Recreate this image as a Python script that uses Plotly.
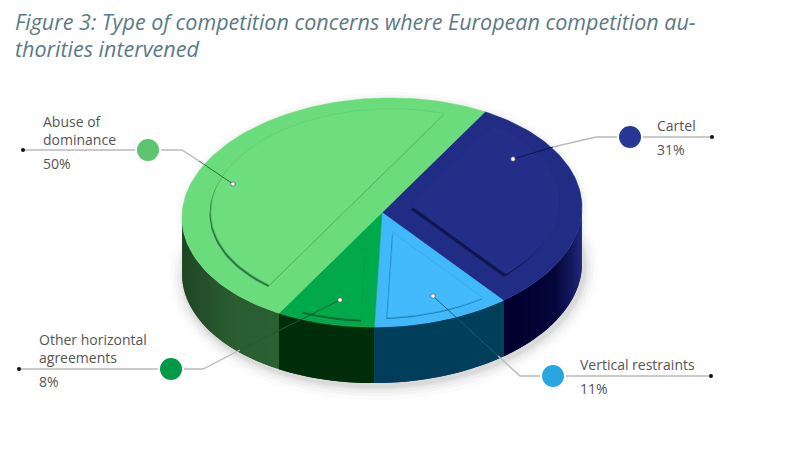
import math
import plotly.graph_objects as go

# ---- data ----
categories = ["Cartel", "Vertical restraints", "Other horizontal agreements", "Abuse of dominance"]
values = [31, 11, 8, 50]
value_labels = ["31%", "11%", "8%", "50%"]
title_lines = ["Figure 3: Type of competition concerns where European competition au-", "thorities intervened"]

# ---- styling ----
START_DEG = 31.0
CX, CY, A, B, TILT, DEPTH = 382.0, 212.5, 200.0, 114.5, 0.025, 56.0
top_colors = ["#212c85", "#40b8fa", "#00a94a", "#6bdc7c"]
inset_colors = ["#232e88", "#42bafc", "#00aa4b", "#6ddd7e"]
shadow_colors = ["#10164f", "#1f7fb5", "#14622e", "#2f7a42"]
edge_colors = ["#28328e", "#36a8e6", "#03a549", "#62cc74"]
dot_colors = ["#263796", "#27a6e1", "#009a47", "#5cc46e"]
side_stops = [
    [(505, "#00002c"), (555, "#05063a"), (572, "#141a60"), (582, "#222a80")],
    [(375, "#003e5c"), (505, "#003f58")],
    [(278, "#002d0a"), (375, "#002d0a")],
    [(182, "#1f4624"), (230, "#2b5c31"), (278, "#2b6033")],
]
# inset: circle centre (disc units), radius, offsets from the wedge's start and end edges
insets = [
    dict(c=(0.03, 0.05), r=0.85, d0=0.11, d1=0.15),
    dict(c=(0.0, 0.0), r=0.92, d0=0.065, d1=0.062),
    dict(c=(0.0, 0.0), r=0.935, d0=0.07, d1=0.09),
    dict(c=(0.01, 0.04), r=0.865, d0=0.17, d1=0.17),
]
shadow_shift = [(-2.0, 3.0), (-1.0, 1.5), (0.0, 2.2), (-1.5, 2.0)]
leaders = [
    dict(end=(712, 137), dot=(630, 137), knee=(596, 137), tip=(513, 159), over=(553, 147), inner="#0d1250"),
    dict(end=(711, 376), dot=(553, 376), knee=(520, 376), tip=(433, 296), over=(498, 356), inner="#1a5f78"),
    dict(end=(19, 369), dot=(171, 369), knee=(203, 369), tip=(340, 300), over=(240, 350), inner="#1b5a2e"),
    dict(end=(23, 150), dot=(148, 150), knee=(182, 150), tip=(233, 184), over=(199, 161), inner="#2f6f40"),
]
label_pos = [
    dict(x=655, y=125, pct=149),
    dict(x=578, y=364, pct=388),
    dict(x=37, y=348.5, pct=381),
    dict(x=41, y=130, pct=163),
]
label_lines = [["Cartel"], ["Vertical restraints"], ["Other horizontal", "agreements"], ["Abuse of", "dominance"]]


def px(u, v, drop=0.0):
    return CX + A * u, CY - B * v - TILT * A * u + drop


def hex_mix(stops, x):
    if x <= stops[0][0]:
        return stops[0][1]
    for (x0, c0), (x1, c1) in zip(stops, stops[1:]):
        if x <= x1:
            t = (x - x0) / (x1 - x0)
            p = [int(c0[i:i + 2], 16) for i in (1, 3, 5)]
            q = [int(c1[i:i + 2], 16) for i in (1, 3, 5)]
            return "rgb(%d,%d,%d)" % tuple(round(a + (b - a) * t) for a, b in zip(p, q))
    return stops[-1][1]


def clip(poly, nx, ny, d):
    """keep the part of poly with nx*u + ny*v >= d"""
    out = []
    for i, p in enumerate(poly):
        q = poly[(i + 1) % len(poly)]
        fp = nx * p[0] + ny * p[1] - d
        fq = nx * q[0] + ny * q[1] - d
        if fp >= 0:
            out.append(p)
        if fp * fq < 0:
            t = fp / (fp - fq)
            out.append((p[0] + (q[0] - p[0]) * t, p[1] + (q[1] - p[1]) * t))
    return out


fig = go.Figure()


def poly(points, fill, line=None, width=0.6, opacity=1.0):
    xs = [p[0] for p in points] + [points[0][0]]
    ys = [p[1] for p in points] + [points[0][1]]
    fig.add_trace(go.Scatter(x=xs, y=ys, mode="lines", fill="toself", fillcolor=fill, opacity=opacity,
                             line=dict(color=line or fill, width=width if line else 0),
                             hoverinfo="skip", showlegend=False))


# angular spans from the values
total = sum(values)
spans = []
a0 = START_DEG
for val in values:
    a1 = a0 + 360.0 * val / total
    spans.append((a0, a1))
    a0 = a1

# soft shadow below the pie
circle = [(math.sin(math.radians(t)), math.cos(math.radians(t))) for t in range(0, 360, 3)]
for grow, op in [(14, 0.025), (10, 0.03), (7, 0.035), (4, 0.05), (2, 0.06)]:
    poly([(CX + (A + grow) * u + 2, CY - (B + grow) * v - TILT * A * u + DEPTH + 3) for u, v in circle],
         "#404040", opacity=op)
for grow, op in [(6, 0.02), (3, 0.03)]:
    poly([(CX + (A + grow) * u + 1, CY - (B + grow) * v - TILT * A * u) for u, v in circle], "#404040", opacity=op)

# side wall: each facet overlaps the next, and the next paints over the join
for (s0, s1), stops in zip(spans, side_stops):
    lo, hi = max(s0, 88.0), min(s1, 272.0)
    t = lo
    while t < hi:
        t2 = min(t + 1.5, hi)
        t3 = min(t2 + 1.5, hi)
        arc = [t + (t3 - t) * i / 4 for i in range(5)]
        top = [px(math.sin(math.radians(q)), math.cos(math.radians(q))) for q in arc]
        bot = [px(math.sin(math.radians(q)), math.cos(math.radians(q)), DEPTH) for q in arc]
        mx = px(math.sin(math.radians((t + t2) / 2)), 0)[0]
        poly(top + bot[::-1], hex_mix(stops, mx))
        t = t2

# top wedges
for (s0, s1), col in zip(spans, top_colors):
    n = max(2, int((s1 - s0) / 1.5))
    pts = [(CX, CY)] + [px(math.sin(math.radians(s0 + (s1 - s0) * i / n)),
                           math.cos(math.radians(s0 + (s1 - s0) * i / n))) for i in range(n + 1)]
    poly(pts, col, line=col, width=0.5)

# raised insets
for k, ((s0, s1), ins) in enumerate(zip(spans, insets)):
    shape = [(ins["c"][0] + ins["r"] * math.sin(math.radians(t)),
              ins["c"][1] + ins["r"] * math.cos(math.radians(t))) for t in range(0, 360, 2)]
    r0, r1 = math.radians(s0), math.radians(s1)
    shape = clip(shape, math.cos(r0), -math.sin(r0), ins["d0"])
    shape = clip(shape, -math.cos(r1), math.sin(r1), ins["d1"])
    pts = [px(u, v) for u, v in shape]
    dx, dy = shadow_shift[k]
    poly([(x + dx, y + dy) for x, y in pts], shadow_colors[k])
    poly(pts, inset_colors[k], line=edge_colors[k], width=0.8)

# leader lines
for item, col in zip(leaders, dot_colors):
    lx = [item["end"][0], item["knee"][0], item["over"][0]]
    ly = [item["end"][1], item["knee"][1], item["over"][1]]
    fig.add_trace(go.Scatter(x=lx, y=ly, mode="lines", line=dict(color="#b9b9b9", width=1.4),
                             hoverinfo="skip", showlegend=False))
    fig.add_trace(go.Scatter(x=[item["over"][0], item["tip"][0]], y=[item["over"][1], item["tip"][1]], mode="lines",
                             line=dict(color=item["inner"], width=1.0), hoverinfo="skip", showlegend=False))
    fig.add_trace(go.Scatter(x=[item["end"][0]], y=[item["end"][1]], mode="markers",
                             marker=dict(size=4, color="#111111"), hoverinfo="skip", showlegend=False))
    fig.add_trace(go.Scatter(x=[item["tip"][0]], y=[item["tip"][1]], mode="markers",
                             marker=dict(size=4.5, color="white", line=dict(color="#555555", width=0.7)),
                             hoverinfo="skip", showlegend=False))
    fig.add_trace(go.Scatter(x=[item["dot"][0]], y=[item["dot"][1]], mode="markers",
                             marker=dict(size=24, color=col, line=dict(color="white", width=2)),
                             hoverinfo="skip", showlegend=False))

annotations = []
for y, txt in zip((21.5, 48.5), title_lines):
    annotations.append(dict(x=12.5, y=y, xref="x", yref="y", text="<i>%s</i>" % txt, showarrow=False, xanchor="left",
                            yanchor="middle", font=dict(family="Open Sans", size=21.5, color="#5b7a86")))
for pos, lines, pct in zip(label_pos, label_lines, value_labels):
    annotations.append(dict(x=pos["x"], y=pos["y"], xref="x", yref="y", text="<br>".join(lines), showarrow=False,
                            xanchor="left", yanchor="middle", align="left",
                            font=dict(family="Open Sans", size=14, color="#555555")))
    annotations.append(dict(x=pos["x"], y=pos["pct"], xref="x", yref="y", text=pct, showarrow=False, xanchor="left",
                            yanchor="middle", font=dict(family="Open Sans", size=14, color="#555555")))

fig.update_layout(
    width=791, height=463, margin=dict(l=0, r=0, t=0, b=0), paper_bgcolor="white", plot_bgcolor="white",
    showlegend=False, annotations=annotations,
    xaxis=dict(range=[0, 791], visible=False, fixedrange=True),
    yaxis=dict(range=[463, 0], visible=False, fixedrange=True),
)
fig.write_html("out.html", config={"displayModeBar": False},
               post_script="document.body.style.margin='0';document.body.style.overflow='hidden';")
